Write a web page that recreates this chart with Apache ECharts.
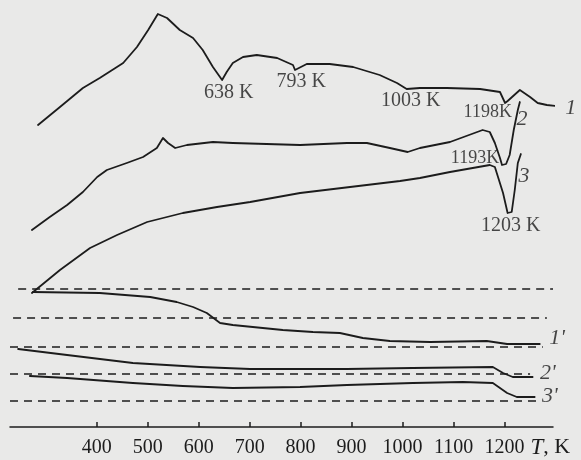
<!DOCTYPE html>
<html>
<head>
<meta charset="utf-8">
<script src="https://cdn.jsdelivr.net/npm/echarts@6/dist/echarts.min.js"></script>
<style>
html,body{margin:0;padding:0;background:#e9e9e8;}
#c{width:581px;height:460px;}
</style>
</head>
<body>
<div id="c"></div>
<script>
// Temperature ticks (K)
const tempTicks = [400, 500, 600, 700, 800, 900, 1000, 1100, 1200];

// DTA curves: [T (K), signal (arb. units)]
const curve1 = [[285,30.2],[328,32],[373,33.9],[406,34.9],[452,36.4],[479,38],[501,39.7],[520,41.3],[538,40.9],[563,39.7],[589,38.9],[608,37.7],[628,36],[646,34.7],[655,35.5],[667,36.4],[687,37],[714,37.2],[754,36.9],[785,36.2],[789,35.7],[812,36.3],[857,36.3],[903,36],[955,35.2],[989,34.4],[1008,33.8],[1034,33.9],[1087,33.9],[1152,33.8],[1191,33.5],[1201,32.4],[1206,32.6],[1230,33.7],[1250,33],[1265,32.4],[1283,32.2],[1318,32]];
const curve2 = [[273,19.7],[308,21],[342,22.2],[373,23.5],[401,25],[420,25.7],[459,26.4],[491,27],[518,27.9],[530,28.9],[540,28.4],[554,27.9],[577,28.2],[628,28.5],[667,28.4],[799,28.2],[891,28.4],[930,28.4],[975,27.9],[1010,27.5],[1034,27.9],[1093,28.5],[1157,29.7],[1171,29.5],[1181,28.4],[1191,26.9],[1195,26.2],[1203,26.3],[1210,27.2],[1218,29.7],[1226,31.7],[1230,32.5]];
const curve3 = [[273,13.4],[328,15.7],[387,17.9],[440,19.2],[499,20.5],[569,21.4],[636,22],[701,22.5],[799,23.4],[897,24],[995,24.6],[1034,24.9],[1093,25.5],[1171,26.2],[1181,26],[1197,23.4],[1206,21.4],[1214,21.5],[1220,23.7],[1226,26.4],[1232,27.3]];

// TG curves
const curve1p = [[275,13.5],[406,13.4],[505,13],[557,12.5],[589,12],[616,11.4],[642,10.4],[667,10.2],[765,9.7],[824,9.5],[877,9.4],[922,8.9],[975,8.6],[1054,8.5],[1165,8.6],[1205,8.3],[1269,8.3]];
const curve2p = [[246,7.8],[342,7.2],[471,6.4],[603,6.0],[701,5.8],[799,5.8],[891,5.8],[1020,5.9],[1177,6.0],[1197,5.4],[1216,5.0],[1255,5.0]];
const curve3p = [[269,5.1],[342,4.9],[471,4.4],[569,4.1],[667,3.9],[799,4.0],[891,4.2],[1020,4.4],[1118,4.5],[1177,4.4],[1205,3.4],[1224,3.0],[1259,3.0]];

// Dashed reference lines: [level, T start, T end]
const baselines = [[13.8,246,1295],[10.9,236,1283],[8.0,230,1275],[5.3,230,1250],[2.6,230,1263]];

// Annotations: [T, level, text, kind]
const annotations = [
  [659,33.4,'638 K','n'],[801,34.5,'793 K','n'],[1016,32.6,'1003 K','n'],
  [1167,31.5,'1198K','s'],[1142,26.9,'1193K','s'],[1212,20.1,'1203 K','n'],
  [1330,31.9,'1','i'],[1234,30.8,'2','i'],[1238,25.1,'3','i'],
  [1303,8.9,"1'",'i'],[1285,5.4,"2'",'i'],[1289,3.1,"3'",'i']
];

const INK = '#1c1c1c';
const SERIF = '"Liberation Serif","DejaVu Serif",serif';

function curveSeries(data){
  return {type:'line', data:data, symbol:'none', smooth:false, clip:false, silent:true,
    lineStyle:{color:INK, width:1.8, join:'round', cap:'round'}};
}
const series = [curve1, curve2, curve3, curve1p, curve2p, curve3p].map(curveSeries);
baselines.forEach(b => series.push({
  type:'line', data:[[b[1],b[0]],[b[2],b[0]]], symbol:'none', clip:false, silent:true,
  lineStyle:{color:INK, width:1.5, type:[8,6]}
}));
series.push({
  type:'scatter', clip:false, silent:true, symbolSize:0,
  data: annotations.map(a => ({value:[a[0],a[1]], name:a[2],
    label:{fontStyle: a[3]==='i' ? 'italic' : 'normal', fontSize: a[3]==='s' ? 18 : (a[3]==='i' ? 22 : 20)}})),
  label:{show:true, position:'inside', formatter: p => p.name, color:INK,
    fontFamily:SERIF, align:'center', verticalAlign:'middle'}
});

const chart = echarts.init(document.getElementById('c'));
chart.setOption({
  backgroundColor:'#e9e9e8',
  animation:false,
  grid:{left:10, right:28, top:0, bottom:32},
  xAxis:{
    type:'value', min:230, max:1295,
    axisLine:{show:true, lineStyle:{color:INK, width:1.5}},
    axisTick:{show:true, inside:true, length:5, customValues:tempTicks, lineStyle:{color:INK, width:1.5}},
    axisLabel:{show:true, customValues:tempTicks, formatter: v => String(v), color:INK, fontFamily:SERIF, fontSize:20, margin:10},
    splitLine:{show:false},
    name:'{it|T}, K', nameLocation:'end', nameGap:-25,
    nameTextStyle:{color:INK, fontFamily:SERIF, fontSize:22, align:'left', verticalAlign:'top', padding:[9,0,0,0],
      rich:{it:{fontStyle:'italic', fontFamily:SERIF, fontSize:23, color:INK}}}
  },
  yAxis:{type:'value', min:-0.1, max:42.7, show:false},
  series:series
});
</script>
</body>
</html>
